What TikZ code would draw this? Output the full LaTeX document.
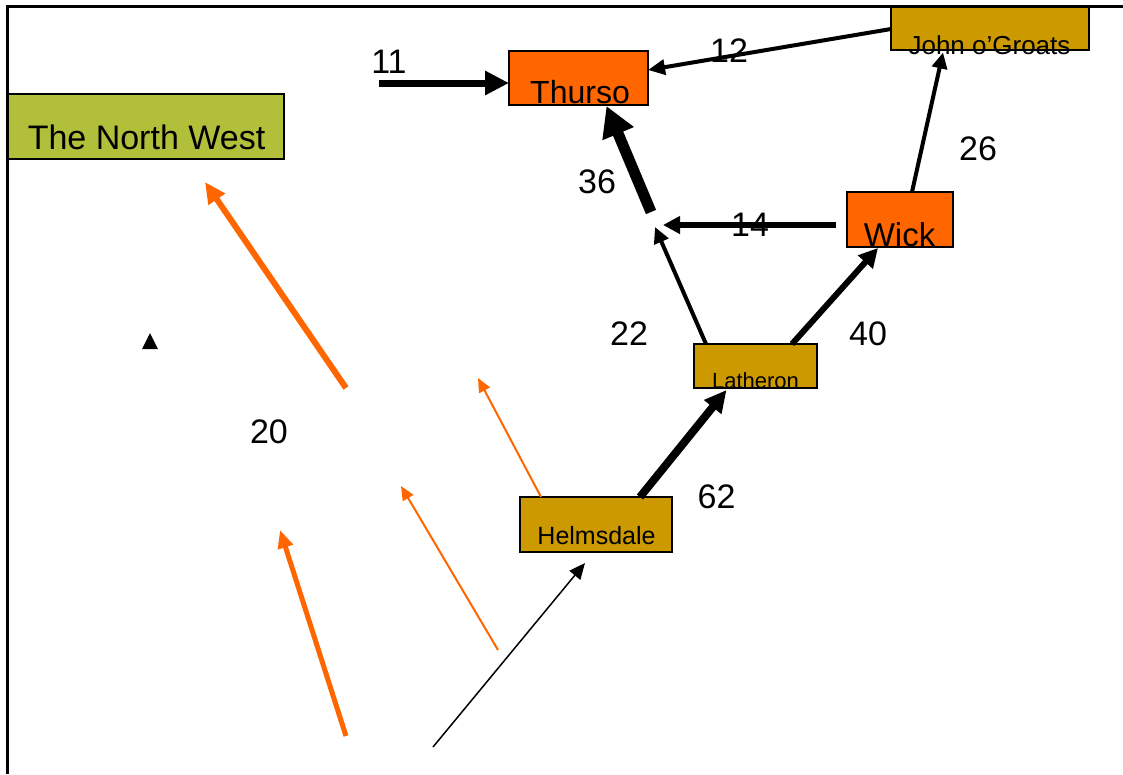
\documentclass[tikz,border=0pt]{standalone}
\usepackage{fontspec}
\setmainfont{Liberation Sans}
\usetikzlibrary{arrows.meta,calc}
\definecolor{orng}{RGB}{255,102,0}
\definecolor{gold}{RGB}{204,153,0}
\definecolor{olive}{RGB}{178,191,58}
\tikzset{
  box/.style={draw=black, line width=1.5pt, inner sep=0pt, outer sep=0pt},
  txt/.style={anchor=base, inner sep=0pt, outer sep=0pt},
  num/.style={anchor=base, inner sep=0pt, font=\fontsize{34}{40}\selectfont},
  conn/.style={line cap=butt},
}
\begin{document}
\begin{tikzpicture}[x=1pt,y=-1pt]
\useasboundingbox (0,0) rectangle (1123,774);
% frame
\draw[line width=3pt] (7,774) -- (7,6) -- (1123,6);

% boxes
\node[box, fill=olive, minimum width=276pt, minimum height=65pt] (nw) at (146,126.5) {};
\node[box, fill=orng, minimum width=139pt, minimum height=54pt] (thurso) at (578.5,78) {};
\node[box, fill=gold, minimum width=198pt, minimum height=43pt] (john) at (990,28.5) {};
\node[box, fill=orng, minimum width=106pt, minimum height=55pt] (wick) at (900,219.5) {};
\node[box, fill=gold, minimum width=123pt, minimum height=44pt] (lath) at (755.5,366) {};
\node[box, fill=gold, minimum width=152pt, minimum height=55pt] (helm) at (596,524.5) {};

% box texts
\node[txt, font=\fontsize{34}{40}\selectfont] (nwt) at (146.5,149) {The North West};
\node[txt, font=\fontsize{32}{38}\selectfont] (thursot) at (580,103) {Thurso};
\node[txt, font=\fontsize{26}{30}\selectfont] (johnt) at (989.5,54) {John o’Groats};
\node[txt, font=\fontsize{33}{38}\selectfont] (wickt) at (899.5,246) {Wick};
\node[txt, font=\fontsize{22}{26}\selectfont] (latht) at (755.5,388) {Latheron};
\node[txt, font=\fontsize{25}{30}\selectfont] (helmt) at (596.5,544) {Helmsdale};

% free coordinates
\coordinate (in11) at (379,83);
\coordinate (j14) at (663,225);
\coordinate (t36) at (651,212);
\coordinate (h22) at (655,227);
\coordinate (o1s) at (346,388);
\coordinate (o1e) at (205,182);
\coordinate (o2e) at (478,378);
\coordinate (o3s) at (498,650);
\coordinate (o3e) at (401,486);
\coordinate (o4s) at (346,736);
\coordinate (o4e) at (280,530);
\coordinate (b1s) at (433,747);
\coordinate (b1e) at (585,563);

% black arrows
\draw[conn, line width=7pt, -{Triangle[length=24pt,width=23pt]}] (in11) -- (thurso.west |- in11);
\draw[conn, line width=4pt, -{Triangle[length=17pt,width=15pt]}] ([yshift=-0.5pt]john.west) -- ([yshift=8pt]thurso.east);
\draw[conn, line width=11pt, -{Triangle[length=30pt,width=32pt]}] (t36) -- ([xshift=28pt,yshift=-1pt]thurso.south);
\draw[conn, line width=6pt, -{Triangle[length=17pt,width=17pt]}] ([xshift=-11pt,yshift=-5.5pt]wick.west) -- (j14);
\draw[conn, line width=4pt, -{Triangle[length=16pt,width=15pt]}] ([xshift=-49.5pt]lath.north) -- (h22);
\draw[conn, line width=6pt, -{Triangle[length=19pt,width=19pt]}] ([xshift=36.5pt]lath.north) -- ([xshift=-22pt,yshift=-1pt]wick.south);
\draw[conn, line width=4pt, -{Triangle[length=16pt,width=15pt]}] ([xshift=12pt]wick.north) -- ([xshift=-47pt,yshift=-2.5pt]john.south);
\draw[conn, line width=8pt, -{Triangle[length=22pt,width=21pt]}] ([xshift=44pt]helm.north) -- ([xshift=-29pt,yshift=-2pt]lath.south);

% orange and thin arrows
\draw[orng, conn, line width=2pt, -{Triangle[length=14pt,width=12pt]}] ([xshift=-55pt]helm.north) -- (o2e);
\draw[orng, conn, line width=6pt, -{Triangle[length=21pt,width=19pt]}] (o1s) -- (o1e);
\draw[orng, conn, line width=2pt, -{Triangle[length=14pt,width=12pt]}] (o3s) -- (o3e);
\draw[orng, conn, line width=5pt, -{Triangle[length=18pt,width=15pt]}] (o4s) -- (o4e);
\draw[conn, line width=1.5pt, -{Triangle[length=16pt,width=14pt]}] (b1s) -- (b1e);

% small triangle
\fill (142,349) -- (158,349) -- (150,333) -- cycle;

% numbers
\node[num] (n11) at (389,73) {11};
\node[num] (n12) at (729,62) {12};
\node[num] (n26) at (978,160) {26};
\node[num] (n36) at (597,193) {36};
\node[num] (n14) at (750,236) {14};
\node[num] (n22) at (629,345) {22};
\node[num] (n40) at (868,345) {40};
\node[num] (n62) at (716.5,508) {62};
\node[num] (n20) at (269,443) {20};
\end{tikzpicture}
\end{document}
